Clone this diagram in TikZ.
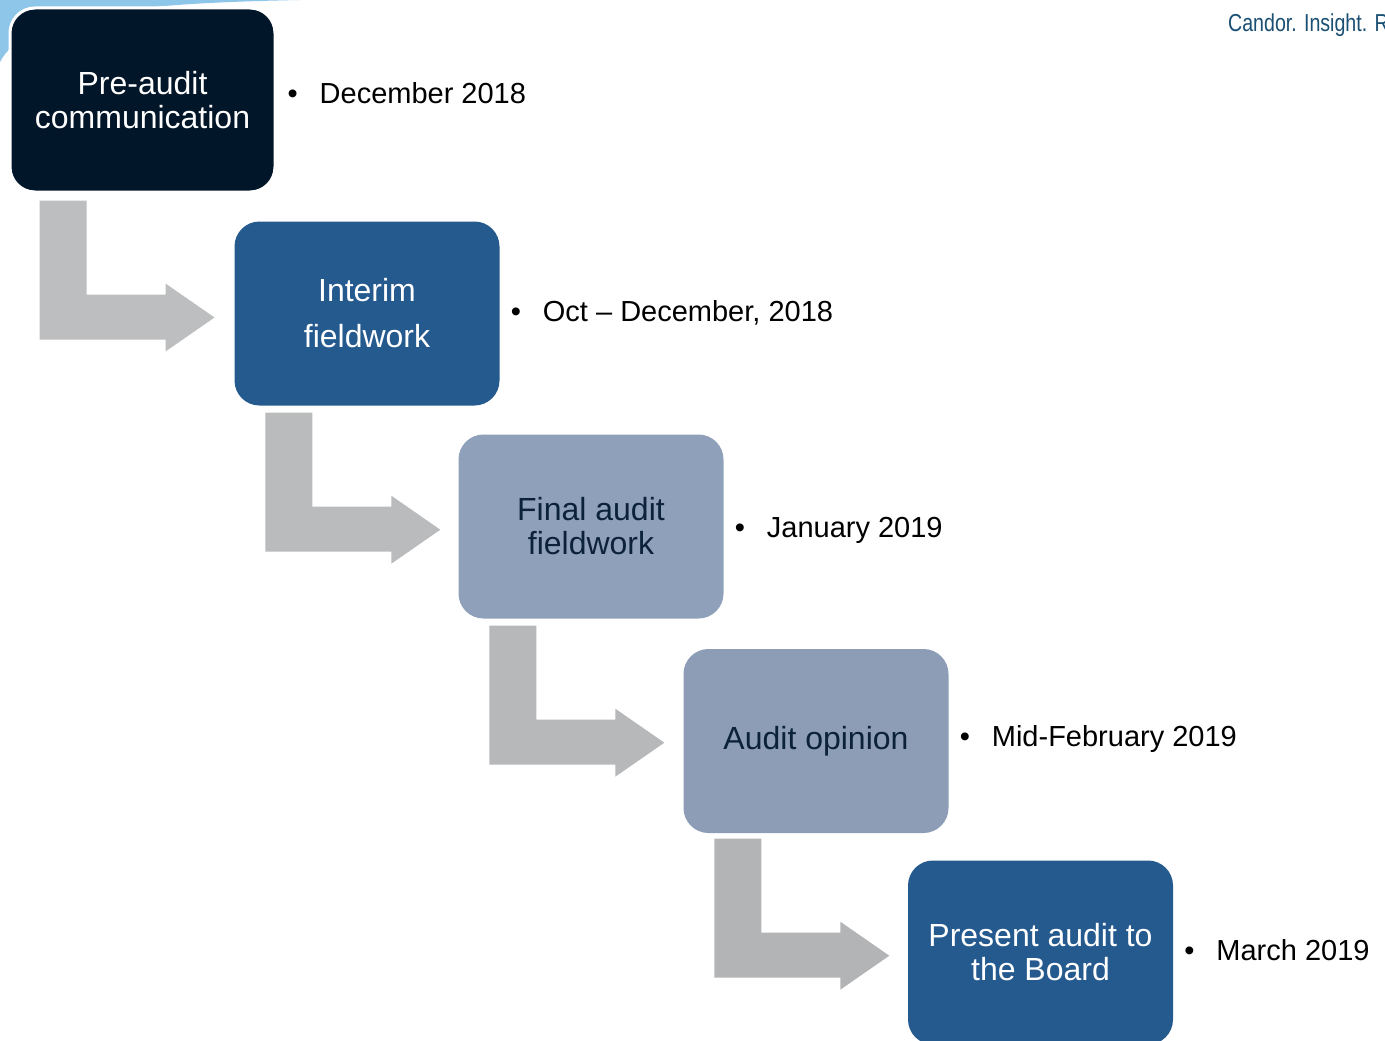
\documentclass[tikz,border=0pt]{standalone}
\usepackage{fontspec}
\setmainfont{Liberation Sans}
\usetikzlibrary{calc}
\definecolor{navy}{HTML}{021629}
\definecolor{midblue}{HTML}{255A8F}
\definecolor{paleblue}{HTML}{8FA0BA}
\definecolor{paleblueb}{HTML}{8D9DB6}
\definecolor{darktext}{HTML}{0B2239}
\definecolor{tagblue}{HTML}{1A4F74}
\definecolor{sky}{HTML}{8EC6EA}
\tikzset{
  stepbox/.style={rectangle, rounded corners=25pt, minimum width=265pt, minimum height=184pt,
    inner sep=0pt, align=center, font=\fontsize{32}{34}\selectfont},
  bullettext/.style={anchor=base west, inner sep=0pt, font=\fontsize{29}{34}\selectfont},
  bentarrow/.pic={
    \fill[pic actions] (0,0) -- (47,0) -- (47,94) -- (126,94) -- (126,83) -- (175,117)
      -- (126,151) -- (126,139) -- (0,139) -- cycle;
  }
}
\begin{document}
\begin{tikzpicture}[x=1pt,y=-1pt]
\useasboundingbox (0,0) rectangle (1385,1041);
\clip (0,0) rectangle (1385,1041);
\fill[white] (0,0) rectangle (1385,1041);
% light blue swoosh behind first box
\fill[sky] (0,0) -- (300,0) .. controls (150,3) and (25,12) .. (0,62) -- cycle;
% tagline
\node[anchor=base west, inner sep=0pt, text=tagblue, font=\fontsize{24.5}{28}\selectfont, xscale=0.8, transform shape] (tag) at (1228,32) {Candor. Insight. Results.};
% boxes
\node[stepbox, fill=navy, draw=white, line width=3pt, text=white] (b1) at (142.5,100) {Pre-audit\\communication};
\node[stepbox, fill=midblue, text=white, font=\fontsize{32}{46}\selectfont] (b2) at (367,313.5) {Interim\\fieldwork};
\node[stepbox, fill=paleblue, text=darktext] (b3) at (591,526.5) {Final audit\\fieldwork};
\node[stepbox, fill=paleblueb, text=darktext] (b4) at (816,741) {Audit opinion};
\node[stepbox, fill=midblue, text=white] (b5) at (1040.5,952.5) {Present audit to\\the Board};
% bent arrows between boxes
\pic[fill={rgb,255:red,189;green,190;blue,192}] at ($(b1.south west)+(31,7)$) {bentarrow};
\pic[fill={rgb,255:red,186;green,187;blue,189}] at ($(b2.south west)+(31,7)$) {bentarrow};
\pic[fill={rgb,255:red,183;green,184;blue,186}] at ($(b3.south west)+(31,7)$) {bentarrow};
\pic[fill={rgb,255:red,179;green,180;blue,182}] at ($(b4.south west)+(31,5.5)$) {bentarrow};
% bullet labels
\foreach \b/\dy/\t [count=\i] in {b1/3.5/December 2018, b2/8/{Oct – December, 2018}, b3/11/January 2019, b4/5.5/Mid-February 2019, b5/8/March 2019}{
  \node[bullettext] (l\i) at ($(\b.east)+(11,\dy)$) {\makebox[32pt][l]{•}\t};
}
\end{tikzpicture}
\end{document}
